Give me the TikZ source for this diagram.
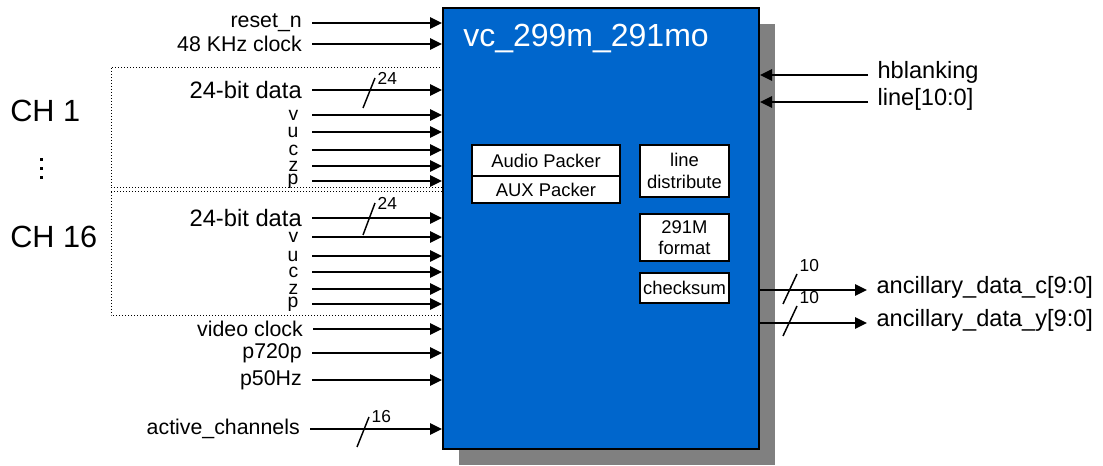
\documentclass[tikz,border=0pt]{standalone}
\usepackage{fontspec}
\setmainfont{Liberation Sans}
\usetikzlibrary{arrows.meta,shadows}
\definecolor{coreblue}{HTML}{0066CC}
\definecolor{shadowgray}{HTML}{808080}
\tikzset{
  corebox/.style={draw=black,fill=coreblue,line width=1.5pt,inner sep=0pt,
                  drop shadow={shadow xshift=12pt,shadow yshift=-12pt,
                               fill=shadowgray,opacity=1}},
  subbox/.style={draw=black,fill=white,line width=1.5pt,inner sep=0pt,
                 align=center,font=\fontsize{13.8}{16.2}\selectfont},
  sig/.style={-{Triangle[length=9pt,width=8.5pt]},line width=1.3pt},
  inlbl/.style={anchor=east,inner xsep=7.5pt,inner ysep=0pt,
                font=\fontsize{16}{16}\selectfont},
  datalbl/.style={inlbl,font=\fontsize{17.8}{17.8}\selectfont},
  bitlbl/.style={anchor=east,inner xsep=10pt,inner ysep=0pt,
                 font=\fontsize{14.5}{14.5}\selectfont},
  outlbl/.style={anchor=base west,inner xsep=7pt,yshift=-2.5pt,
                 font=\fontsize{17.7}{17.7}\selectfont},
  chlbl/.style={anchor=west,inner sep=0pt,font=\fontsize{23}{23}\selectfont},
  chgroup/.style={line width=0.75pt,dash pattern=on 0.75pt off 1.5pt},
  busslash/.style={line width=1.1pt},
  buswd/.style={inner sep=1.5pt,font=\fontsize{13}{13}\selectfont}
}
\begin{document}
\begin{tikzpicture}[x=0.75pt,y=-0.75pt]
  \useasboundingbox (0,0) rectangle (1103,466);
  % channel groups
  \draw[chgroup] (111,68) rectangle (442,188);
  \draw[chgroup] (111,192) rectangle (442,316);
  \node[chlbl] (ch1) at (10,111) {CH 1};
  \fill (39.5,158.5) rectangle (42.5,161.5);
  \fill (39.5,167.5) rectangle (42.5,170.5);
  \fill (39.5,176.5) rectangle (42.5,179.5);
  \node[chlbl] (ch16) at (10,237) {CH 16};

  % core block
  \node[corebox,minimum width=237pt,minimum height=330.75pt,anchor=north west] (core) at (442,7) {};
  \node[anchor=base west,inner sep=0pt,text=white,font=\fontsize{24}{24}\selectfont] (title) at (463,47) {vc\_299m\_291mo};
  \node[subbox,minimum width=111pt,minimum height=23.25pt] (audio) at (546,160.5) {Audio Packer};
  \node[subbox,minimum width=111pt,minimum height=20.25pt] (aux) at (546,189.5) {AUX Packer};
  \node[subbox,minimum width=66.75pt,minimum height=39pt] (linedist) at (684.5,171) {line\\distribute};
  \node[subbox,minimum width=66.75pt,minimum height=35.25pt] (fmt) at (684.5,237.5) {291M\\format};
  \node[subbox,minimum width=66.75pt,minimum height=22.5pt] (chk) at (684.5,288) {checksum};

  % inputs
  \node[inlbl] (rst) at (312,23) {reset\_n};
  \draw[sig] (rst.east) -- (rst.east -| core.west);
  \node[inlbl] (aclk) at (312,44) {48 KHz clock};
  \draw[sig] (aclk.east) -- (aclk.east -| core.west);

  \node[datalbl] (dataa) at (312,90) {24-bit data};
  \draw[sig] (dataa.east) -- (dataa.east -| core.west);
  \draw[busslash] (363,108) -- (375,78) node[buswd,anchor=west] (wa) {24};
  \node[bitlbl] (va) at (312,115) {v};
  \draw[sig] (va.east) -- (va.east -| core.west);
  \node[bitlbl] (ua) at (312,132) {u};
  \draw[sig] (ua.east) -- (ua.east -| core.west);
  \node[bitlbl] (ca) at (312,150) {c};
  \draw[sig] (ca.east) -- (ca.east -| core.west);
  \node[bitlbl] (za) at (312,166) {z};
  \draw[sig] (za.east) -- (za.east -| core.west);
  \node[bitlbl] (pa) at (312,181) {p};
  \draw[sig] (pa.east) -- (pa.east -| core.west);

  \node[datalbl] (datab) at (312,218) {24-bit data};
  \draw[sig] (datab.east) -- (datab.east -| core.west);
  \draw[busslash] (363,235) -- (375,203) node[buswd,anchor=west] (wb) {24};
  \node[bitlbl] (vb) at (312,237) {v};
  \draw[sig] (vb.east) -- (vb.east -| core.west);
  \node[bitlbl] (ub) at (312,256) {u};
  \draw[sig] (ub.east) -- (ub.east -| core.west);
  \node[bitlbl] (cb) at (312,272) {c};
  \draw[sig] (cb.east) -- (cb.east -| core.west);
  \node[bitlbl] (zb) at (312,289) {z};
  \draw[sig] (zb.east) -- (zb.east -| core.west);
  \node[bitlbl] (pb) at (312,304) {p};
  \draw[sig] (pb.east) -- (pb.east -| core.west);

  \node[inlbl] (vclk) at (313,329) {video clock};
  \draw[sig] (vclk.east) -- (vclk.east -| core.west);
  \node[inlbl] (p720) at (312,353) {p720p};
  \draw[sig] (p720.east) -- (p720.east -| core.west);
  \node[inlbl] (p50) at (312,380) {p50Hz};
  \draw[sig] (p50.east) -- (p50.east -| core.west);
  \node[inlbl] (actch) at (310,429) {active\_channels};
  \draw[sig] (actch.east) -- (actch.east -| core.west);
  \draw[busslash] (357,447) -- (369,417) node[buswd,anchor=west] (wact) {16};

  % right side
  \coordinate (hbin) at (868,75);
  \node[outlbl] (hblank) at (hbin) {hblanking};
  \draw[sig] (hbin) -- (hbin -| core.east);
  \coordinate (lnin) at (868,102);
  \node[outlbl] (lnum) at (lnin) {line[10:0]};
  \draw[sig] (lnin) -- (lnin -| core.east);

  \coordinate (ancc) at (867,290);
  \node[outlbl] (anccl) at (ancc) {ancillary\_data\_c[9:0]};
  \draw[sig] (ancc -| core.east) -- (ancc);
  \draw[busslash] (783,304) -- (797,274) node[buswd,anchor=south west] (wc) {10};
  \coordinate (ancy) at (867,323);
  \node[outlbl] (ancyl) at (ancy) {ancillary\_data\_y[9:0]};
  \draw[sig] (ancy -| core.east) -- (ancy);
  \draw[busslash] (783,336) -- (797,306) node[buswd,anchor=south west] (wy) {10};
\end{tikzpicture}
\end{document}
